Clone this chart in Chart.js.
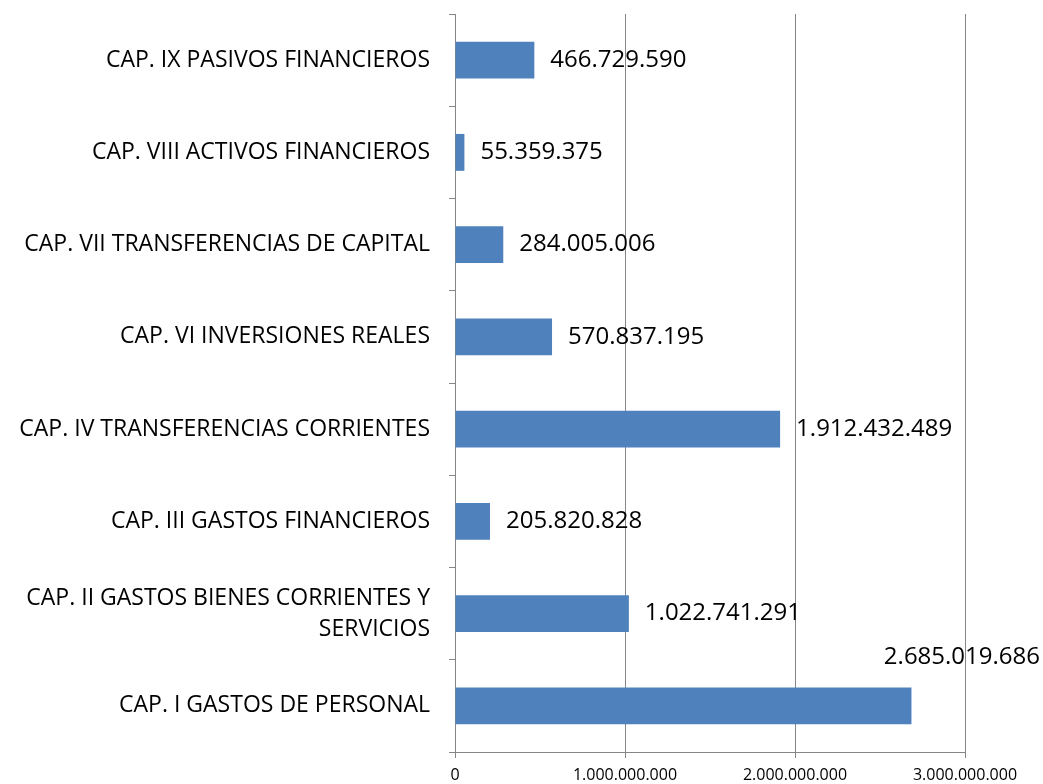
<!DOCTYPE html>
<html>
<head>
<meta charset="utf-8">
<script src="https://cdn.jsdelivr.net/npm/chart.js@4.4.1/dist/chart.umd.min.js"></script>
<style>
  body { margin: 0; background: #fff; }
  #wrap { width: 1043px; height: 784px; }
</style>
</head>
<body>
<div id="wrap"><canvas id="gastos" width="1043" height="784"></canvas></div>
<script>
var CAPITULOS = [
  "CAP. IX PASIVOS FINANCIEROS",
  "CAP. VIII ACTIVOS FINANCIEROS",
  "CAP. VII TRANSFERENCIAS DE CAPITAL",
  "CAP. VI INVERSIONES REALES",
  "CAP. IV TRANSFERENCIAS CORRIENTES",
  "CAP. III GASTOS FINANCIEROS",
  ["CAP. II GASTOS BIENES CORRIENTES Y", "SERVICIOS"],
  "CAP. I GASTOS DE PERSONAL"
];
var IMPORTES = [466729590, 55359375, 284005006, 570837195, 1912432489, 205820828, 1022741291, 2685019686];
var TICKS_X = [0, 1000000000, 2000000000, 3000000000];

var FONT = "'Open Sans', sans-serif";
var GRIS = "#868686";

function puntos(n) {
  return String(n).replace(/\B(?=(\d{3})+(?!\d))/g, ".");
}

// etiquetas de valor al final de cada barra
var etiquetas = {
  id: "etiquetas",
  afterDatasetsDraw: function(chart) {
    var ctx = chart.ctx;
    var meta = chart.getDatasetMeta(0);
    ctx.save();
    ctx.font = "24px " + FONT;
    ctx.fillStyle = "#000";
    ctx.textBaseline = "middle";
    meta.data.forEach(function(bar, i) {
      var txt = puntos(IMPORTES[i]);
      var w = ctx.measureText(txt).width;
      if (bar.x + 16 + w > chart.width - 2) {
        // no cabe a la derecha: encima de la barra
        ctx.textAlign = "right";
        ctx.fillText(txt, chart.width - 3, bar.y - 49);
      } else {
        ctx.textAlign = "left";
        ctx.fillText(txt, bar.x + 16, bar.y);
      }
    });
    ctx.restore();
  }
};

new Chart(document.getElementById("gastos"), {
  type: "bar",
  data: {
    labels: CAPITULOS,
    datasets: [{
      data: IMPORTES,
      backgroundColor: "#4F81BD",
      borderWidth: 0,
      barPercentage: 0.4,
      categoryPercentage: 1
    }]
  },
  options: {
    indexAxis: "y",
    responsive: false,
    animation: false,
    layout: { padding: { top: 14, right: 78, left: 0, bottom: 0 } },
    plugins: {
      legend: { display: false },
      tooltip: { enabled: false }
    },
    scales: {
      x: {
        min: 0,
        max: 3000000000,
        afterBuildTicks: function(scale) {
          scale.ticks = TICKS_X.map(function(v) { return { value: v }; });
        },
        afterFit: function(scale) {
          scale.height = 32;
          scale.paddingLeft = 0;
          scale.paddingRight = 0;
        },
        grid: { color: GRIS, lineWidth: 1, tickLength: 6 },
        border: { color: GRIS },
        ticks: {
          color: "#000",
          padding: 8,
          maxRotation: 0,
          font: { family: FONT, size: 16 },
          callback: function(v) { return puntos(v); }
        }
      },
      y: {
        afterFit: function(scale) {
          scale.width = 455;
          scale.paddingTop = 0;
          scale.paddingBottom = 0;
        },
        grid: { drawOnChartArea: false, offset: true, color: GRIS, tickLength: 6 },
        border: { color: GRIS },
        ticks: {
          color: "#000",
          padding: 19,
          font: { family: FONT, size: 23, lineHeight: 1.35 }
        }
      }
    }
  },
  plugins: [etiquetas]
});
</script>
</body>
</html>
